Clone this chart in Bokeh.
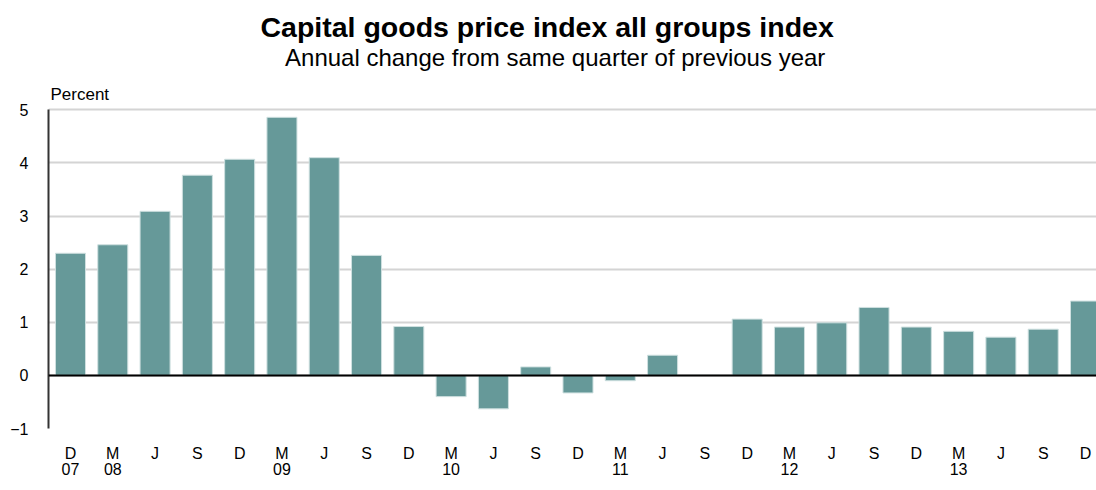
from bokeh.plotting import figure
from bokeh.models import Range1d, FixedTicker, Label, Span
from bokeh.embed import file_html
from bokeh.resources import INLINE

quarters = ["D", "M", "J", "S", "D", "M", "J", "S", "D", "M", "J", "S", "D",
            "M", "J", "S", "D", "M", "J", "S", "D", "M", "J", "S", "D"]
years = ["07", "08", "", "", "", "09", "", "", "", "10", "", "", "",
         "11", "", "", "", "12", "", "", "", "13", "", "", ""]
values = [2.30, 2.46, 3.09, 3.77, 4.07, 4.86, 4.10, 2.26, 0.92, -0.40, -0.63, 0.16, -0.33,
          -0.10, 0.38, 0.0, 1.06, 0.91, 0.99, 1.28, 0.91, 0.83, 0.72, 0.87, 1.40]
yticks = [-1, 0, 1, 2, 3, 4, 5]

title_text = "Capital goods price index all groups index"
subtitle_text = "Annual change from same quarter of previous  year"
unit_text = "Percent"

idx = list(range(len(values)))
ymin, ymax = yticks[0], yticks[-1]
x0 = -0.52

p = figure(frame_width=1048, frame_height=428, output_backend="svg", toolbar_location=None,
           x_range=Range1d(x0, 24.26), y_range=Range1d(ymin, 7.06),
           min_border_left=48, min_border_right=0, min_border_top=0, min_border_bottom=0,
           title=None)
p.outline_line_color = None
p.background_fill_color = "white"
p.border_fill_color = "white"

p.vbar(x=idx, top=values, width=0.71, bottom=0, fill_color="#669999",
       line_color="#cfe0e0", line_width=1)

p.add_layout(Span(location=0, dimension="width", line_color="black", line_width=2))

# axes
p.yaxis.ticker = FixedTicker(ticks=yticks)
p.yaxis.bounds = (ymin, ymax)
p.yaxis.major_tick_out = 0
p.yaxis.major_tick_in = 0
p.yaxis.major_tick_line_color = None
p.yaxis.minor_tick_line_color = None
p.yaxis.axis_line_color = "#333333"
p.yaxis.axis_line_width = 2
p.yaxis.major_label_standoff = 20
p.yaxis.major_label_text_font = "Liberation Sans"
p.yaxis.major_label_text_font_size = "16px"
p.yaxis.major_label_text_color = "black"

p.xaxis.ticker = FixedTicker(ticks=idx)
p.xaxis.major_label_overrides = {i: (q + "\n" + y if y else q) for i, (q, y) in enumerate(zip(quarters, years))}
p.xaxis.major_tick_out = 0
p.xaxis.major_tick_in = 0
p.xaxis.major_tick_line_color = None
p.xaxis.minor_tick_line_color = None
p.xaxis.axis_line_color = None
p.xaxis.major_label_standoff = 16
p.xaxis.major_label_text_font = "Liberation Sans"
p.xaxis.major_label_text_font_size = "16px"
p.xaxis.major_label_text_line_height = 0.95
p.xaxis.major_label_text_color = "black"

p.xgrid.grid_line_color = None
p.ygrid.ticker = FixedTicker(ticks=yticks)
p.ygrid.grid_line_color = "#d4d4d4"
p.ygrid.grid_line_width = 2

p.add_layout(Label(x=x0, y=ymax, x_offset=212, y_offset=83, text=title_text,
                   text_align="left", text_baseline="alphabetic",
                   text_font="Liberation Sans", text_font_style="bold",
                   text_font_size="28.5px", text_color="black"))
p.add_layout(Label(x=x0, y=ymax, x_offset=510, y_offset=52, text=subtitle_text,
                   text_align="center", text_baseline="alphabetic",
                   text_font="Liberation Sans", text_font_size="24px", text_color="black"))
p.add_layout(Label(x=x0, y=ymax, x_offset=2, y_offset=15, text=unit_text,
                   text_align="left", text_baseline="alphabetic",
                   text_font="Liberation Sans", text_font_size="17px", text_color="black"))

open("out.html", "w").write(file_html(p, INLINE))
